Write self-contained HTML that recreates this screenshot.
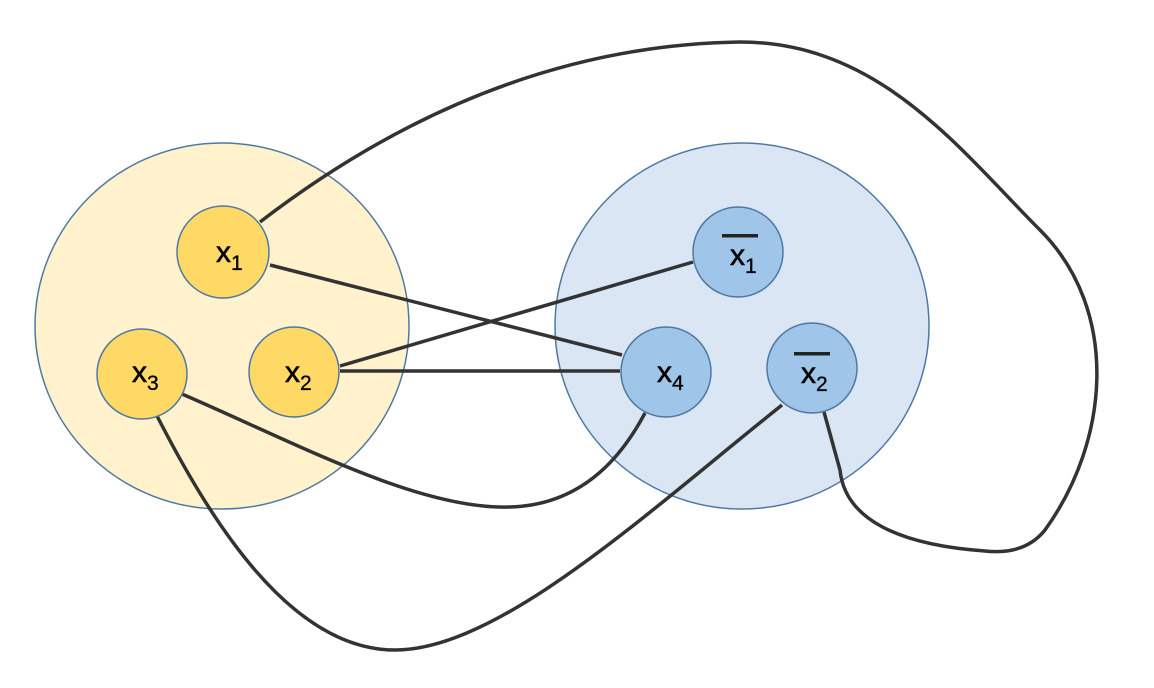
<!DOCTYPE html>
<html><head><style>body{margin:0;background:#fff}svg{display:block}</style></head><body>
<svg width="1154" height="688" viewBox="0 0 1154 688" xmlns="http://www.w3.org/2000/svg" font-family="Liberation Sans, sans-serif">
<ellipse cx="222" cy="326" rx="187" ry="183" fill="#fff2cc" stroke="#4f79a3" stroke-width="1.5"/>
<ellipse cx="742" cy="326" rx="187" ry="183" fill="#dae6f4" stroke="#4f79a3" stroke-width="1.5"/>
<g fill="none" stroke="#333" stroke-width="3.5">
<path d="M260 222 C 380 130, 540 45, 740 42 C 880 42, 960 150, 1040 230 C 1120 310, 1110 440, 1045 530 C 1025 555, 995 552, 985 551 C 900 545, 845 520, 840 470 L 824 412"/>
<path d="M270 265 L622 355"/>
<path d="M340 366 L693 262"/>
<path d="M340 371 L620 371"/>
<path d="M182 394 C 300 445, 420 510, 510 507 C 580 505, 620 460, 645 413"/>
<path d="M155 412 C 210 520, 290 650, 395 650 C 500 650, 650 510, 782 405"/>
</g>
<g stroke="#4f79a3" stroke-width="1.5">
<circle cx="223" cy="252" r="46" fill="#ffd966"/>
<circle cx="142" cy="374" r="45" fill="#ffd966"/>
<circle cx="294" cy="372" r="45" fill="#ffd966"/>
<circle cx="738" cy="252" r="45" fill="#9fc5e8"/>
<circle cx="666" cy="372" r="45" fill="#9fc5e8"/>
<circle cx="812" cy="368" r="45" fill="#9fc5e8"/>
</g>
<g font-size="30" fill="#000" stroke="#000" stroke-width="0.6">
<text x="216" y="262">x<tspan font-size="21" dy="8" stroke-width="0.3">1</tspan></text>
<text x="132" y="382">x<tspan font-size="21" dy="8" stroke-width="0.3">3</tspan></text>
<text x="285" y="382">x<tspan font-size="21" dy="8" stroke-width="0.3">2</tspan></text>
<text x="730" y="265">x<tspan font-size="21" dy="8" stroke-width="0.3">1</tspan></text>
<text x="657" y="382">x<tspan font-size="21" dy="8" stroke-width="0.3">4</tspan></text>
<text x="801" y="383">x<tspan font-size="21" dy="8" stroke-width="0.3">2</tspan></text>
</g>
<rect x="722" y="234" width="36" height="3.5" fill="#222"/>
<rect x="794" y="352" width="36" height="3.5" fill="#222"/>
</svg>
</body></html>
